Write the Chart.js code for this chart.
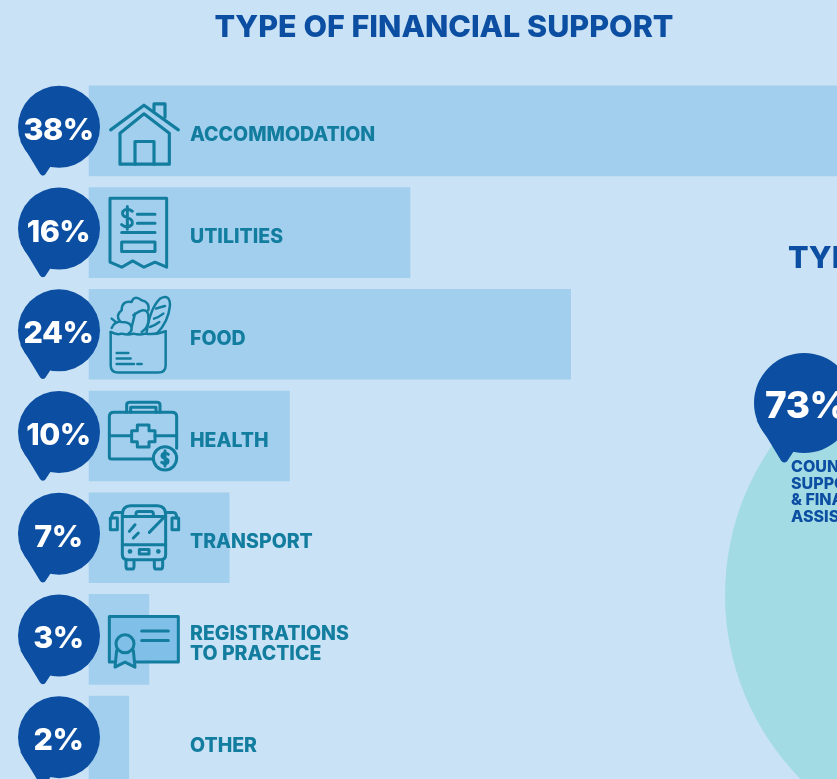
<!DOCTYPE html>
<html>
<head>
<meta charset="utf-8">
<style>
html,body{margin:0;padding:0;width:837px;height:779px;overflow:hidden;background:#C9E2F5}
#wrap{position:absolute;left:0;top:0;width:900px;height:800px}
</style>
<script src="https://cdn.jsdelivr.net/npm/chart.js@4/dist/chart.umd.min.js"></script>
</head>
<body>
<div id="wrap"><canvas id="c" width="900" height="800"></canvas></div>
<script>
const categories = ["ACCOMMODATION","UTILITIES","FOOD","HEALTH","TRANSPORT",["REGISTRATIONS","TO PRACTICE"],"OTHER"];
const shares = [38,16,24,10,7,3,2];
const mainTitle = "TYPE OF FINANCIAL SUPPORT";
const secondTitle = "TYPE OF SUPPORT";
const sideValue = 73;
const sideLines = ["COUNSELLING","SUPPORT","& FINANCIAL","ASSISTANCE"];

const BG="#C9E2F5", BAR="#A3CFEF", TEAL="#127D9E", BLUE="#0B4EA2", AQUA="#A3DBE5", CERT="#7FBFE8";
const FONT="Inter, 'Open Sans', sans-serif";

function pin(ctx,x,y,r){
  const k=r/41;
  ctx.fillStyle=BLUE;
  ctx.beginPath();ctx.arc(x,y,r,0,Math.PI*2);ctx.fill();
  ctx.beginPath();
  ctx.moveTo(x-39*k,y+14*k);
  ctx.lineTo(x-19*k,y+47*k);
  ctx.quadraticCurveTo(x-17*k,y+50*k,x-14*k,y+48*k);
  ctx.lineTo(x-8*k,y+39*k);
  ctx.closePath();ctx.fill();
}
const icons=[
 {top:18,w:9.5,p:[
  "M332 150 L432 76 L535 150","M360 160 V253 H508 V160 M360 160 L432 102 L508 160",
  "M405 253 V185 H462 V253","M462 92 V72 H495 V112"]},
 {top:321,w:9,p:[
  "M330 353 H500 V560 L465 545 L432 560 L398 541 L365 560 L330 545 Z",
  "M412 401 H465 M412 428 H465 M365 456 H465","M365 484 H465 V513 H365 Z",
  "M397 392 Q380 380 369 392 Q362 406 382 411 Q402 418 396 432 Q382 446 365 432 M382 378 V446"]},
 {top:12,w:7.5,p:[
  "M332 140 V240 Q332 262 355 262 H475 Q497 262 497 240 V138",
  "M332 140 Q350 150 365 145 Q385 150 400 145 Q420 150 435 145 Q465 150 497 138",
  "M360 108 Q345 90 365 75 Q365 45 395 50 Q402 28 425 45 Q450 50 445 75",
  "M440 140 Q450 70 480 40 Q510 25 510 60 Q505 110 470 145",
  "M468 70 Q480 65 495 62 M462 100 Q478 95 490 85 M450 125 Q465 120 478 110",
  "M335 128 Q345 105 365 110 Q395 110 395 130 Q395 140 385 145 M335 100 L350 112",
  "M400 90 Q440 60 445 90 Q450 125 425 140 M395 125 L405 85",
  "M350 203 H385 M350 220 H392 M350 236 H402 M412 236 H425"]},
 {top:318,w:9,p:[
  "M460 522 H335 Q328 522 328 515 V395 Q328 382 342 382 H515 Q530 382 530 395 V490",
  "M380 382 V360 Q380 352 390 352 H470 Q480 352 480 360 V382 M392 382 V367 H468 V382",
  "M328 452 H395 M465 452 H530",
  "M412 420 H447 V437 H465 V470 H447 V486 H412 V470 H395 V437 H412 Z",
  "M530 520 A35 35 0 1 1 460 520 A35 35 0 1 1 530 520 Z",
  "M505 508 Q495 500 487 508 Q483 517 495 520 Q508 524 503 533 Q495 540 485 532 M495 497 V543"]},
 {top:9,w:9,p:[
  "M367 75 Q367 48 392 48 H472 Q497 48 497 75 V195 Q497 210 480 210 H385 Q367 210 367 195 Z",
  "M367 80 H497 M367 165 L497 165","M408 80 V72 Q408 65 415 65 H453 Q460 65 460 72 V80",
  "M367 68 H345 Q335 68 335 85 M497 68 H520 Q530 68 530 85",
  "M331 85 H352 V120 H331 Z M516 85 H536 V120 H516 Z",
  "M388 125 L405 105 M400 145 L415 130 M448 128 L490 85",
  "M418 179 H447 V193 H418 Z",
  "M378 212 V230 Q378 238 385 238 H395 Q402 238 402 230 V212 M463 212 V230 Q463 238 470 238 H480 Q488 238 488 230 V212"],
  dots:[[390,185,7],[475,185,7]]},
 {top:312,w:9,fill:true,p:[
  "M425 422 H505 M425 450 H505"]},
 null
];
function drawCertificate(ctx){
  ctx.fillStyle=CERT;
  ctx.fillRect(328,378,207,137);ctx.strokeRect(328,378,207,137);
  ctx.beginPath();ctx.moveTo(350,480);ctx.lineTo(345,530);ctx.lineTo(375,515);ctx.lineTo(405,530);ctx.lineTo(400,480);
  ctx.fillStyle=CERT;ctx.fill();ctx.stroke();
  ctx.beginPath();ctx.arc(375,460,27,0,Math.PI*2);ctx.fill();ctx.stroke();
}
const decor={
 id:"decor",
 beforeDatasetsDraw(chart){
  const ctx=chart.ctx;
  ctx.save();
  ctx.fillStyle=AQUA;
  ctx.beginPath();ctx.arc(987,595,262,0,Math.PI*2);ctx.fill();
  ctx.restore();
 },
 afterDatasetsDraw(chart){
  const ctx=chart.ctx, meta=chart.getDatasetMeta(0);
  ctx.save();
  ctx.textBaseline="alphabetic";
  ctx.fillStyle=BLUE;
  ctx.font="800 30.5px "+FONT;
  ctx.textAlign="center";
  ctx.fillText(mainTitle,444,37);
  ctx.textAlign="left";
  ctx.fillText(secondTitle,788,268);

  pin(ctx,804,403,50);
  ctx.fillStyle="#fff";ctx.textAlign="left";
  ctx.letterSpacing="-0.5px";
  ctx.font="800 37px "+FONT;
  ctx.fillText(sideValue+"%",765,418);
  ctx.letterSpacing="0px";
  ctx.fillStyle=BLUE;
  ctx.font="800 16px "+FONT;
  sideLines.forEach((s,i)=>ctx.fillText(s,791,472+i*16.6));

  shares.forEach((v,i)=>{
   const el=meta.data[i], cy=el.y, top=cy-45;
   pin(ctx,59,cy-4,41);
   ctx.fillStyle="#fff";ctx.textAlign="center";
   ctx.letterSpacing="-0.5px";
   ctx.font="800 30.5px "+FONT;
   ctx.fillText(v+"%",58.5,cy+9);
   ctx.letterSpacing="0px";
   const ic=icons[i];
   if(!ic)return;
   ctx.save();
   ctx.translate(0,top-ic.top/3);
   ctx.scale(1/3,1/3);
   ctx.strokeStyle=TEAL;ctx.lineWidth=ic.w;ctx.lineJoin="round";ctx.lineCap="round";
   if(ic.fill)drawCertificate(ctx);
   ic.p.forEach(d=>ctx.stroke(new Path2D(d)));
   if(ic.dots){ctx.fillStyle=TEAL;ic.dots.forEach(a=>{ctx.beginPath();ctx.arc(a[0],a[1],a[2],0,Math.PI*2);ctx.fill();});}
   ctx.restore();
  });
  ctx.restore();
 }
};
new Chart(document.getElementById("c"),{
 type:"bar",
 data:{labels:categories,datasets:[{data:shares,backgroundColor:BAR,barThickness:90,borderWidth:0}]},
 plugins:[decor],
 options:{
  indexAxis:"y",responsive:false,animation:false,
  layout:{padding:{left:88.6,top:80,right:8,bottom:8}},
  plugins:{legend:{display:false},tooltip:{enabled:false},title:{display:false}},
  scales:{
   x:{display:false,min:0,max:40},
   y:{
    afterFit(s){s.width=0;s.paddingTop=0;s.paddingBottom=0;},
    grid:{display:false,drawTicks:false},border:{display:false},
    ticks:{z:2,mirror:true,padding:101.4,labelOffset:4.7,color:TEAL,font:{family:FONT,weight:"800",size:19.5,lineHeight:1.03}}
   }
  }
 }
});
</script>
</body>
</html>
